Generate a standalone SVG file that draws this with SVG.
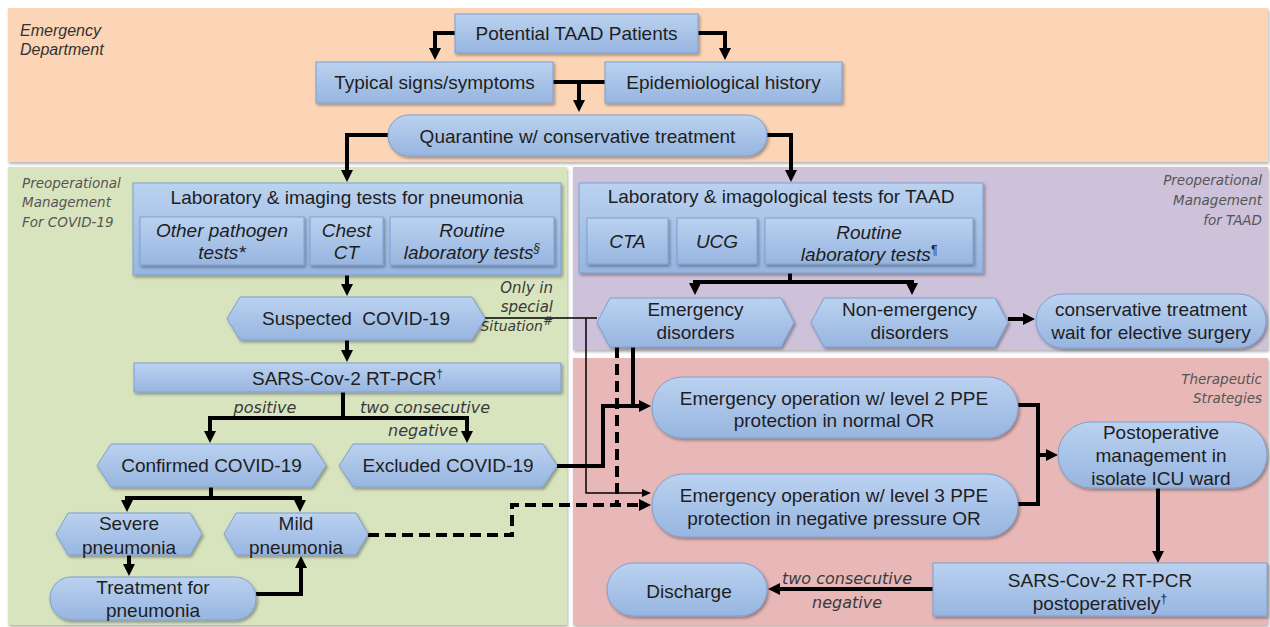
<svg xmlns="http://www.w3.org/2000/svg" width="1270" height="627" viewBox="0 0 1270 627">
<defs>
<linearGradient id="bg" x1="0" y1="0" x2="0" y2="1">
<stop offset="0" stop-color="#BBD2F0"/>
<stop offset="1" stop-color="#97B5E0"/>
</linearGradient>
<filter id="sh" x="-10%" y="-10%" width="120%" height="130%">
<feDropShadow dx="1.5" dy="2" stdDeviation="1.5" flood-color="#000" flood-opacity="0.35"/>
</filter>
<filter id="psh" x="-2%" y="-2%" width="104%" height="106%">
<feDropShadow dx="1" dy="2" stdDeviation="1.5" flood-color="#000" flood-opacity="0.3"/>
</filter>
<marker id="ah" markerUnits="userSpaceOnUse" markerWidth="12" markerHeight="12" refX="1" refY="6" orient="auto" overflow="visible">
<path d="M0,0 L12,6 L0,12 Z" fill="#000"/>
</marker>
<marker id="aht" markerUnits="userSpaceOnUse" markerWidth="9" markerHeight="8" refX="1" refY="4" orient="auto" overflow="visible">
<path d="M0,0 L9,4 L0,8 Z" fill="#000"/>
</marker>
<style>
.box{fill:url(#bg);stroke:#7F9FCF;stroke-width:1;filter:url(#sh)}
.t{font-family:"Liberation Sans",Arial,sans-serif;font-size:19px;fill:#1e1e1e;text-anchor:middle}
.ti{font-family:"Liberation Sans",Arial,sans-serif;font-size:19px;font-style:italic;fill:#1e1e1e;text-anchor:middle}
.pl{font-family:"DejaVu Sans",Verdana,sans-serif;font-size:13.5px;font-style:italic;fill:#555}
.pr{font-family:"DejaVu Sans",Verdana,sans-serif;font-size:13.5px;font-style:italic;fill:#555;text-anchor:end}
.el{font-family:"DejaVu Sans",Verdana,sans-serif;font-size:16px;font-style:italic;fill:#3a3a3a;text-anchor:middle}
.er{font-family:"DejaVu Sans",Verdana,sans-serif;font-size:15px;font-style:italic;fill:#3a3a3a;text-anchor:end}
.ed{font-family:"Liberation Sans",Arial,sans-serif;font-size:16px;font-style:italic;fill:#333}
.sup{font-size:12px}
.sm{font-size:14px}
.c{stroke:#000;stroke-width:4;fill:none}
.thin{stroke:#000;stroke-width:1.5;fill:none}
.dash{stroke:#000;stroke-width:4;fill:none;stroke-dasharray:11 6}
</style>
</defs>

<g id="panels">
<rect x="8" y="8" width="1260" height="154" fill="#FBD5B6" filter="url(#psh)"/>
<rect x="8" y="167" width="559" height="458" fill="#D8E4BE" filter="url(#psh)"/>
<rect x="573" y="167" width="695" height="183" fill="#CDC2DA" filter="url(#psh)"/>
<rect x="573" y="358" width="695" height="267" fill="#E7B8B7" filter="url(#psh)"/>
<text class="ed" x="20" y="36">Emergency</text>
<text class="ed" x="20" y="55">Department</text>
<text class="pl" x="22" y="188">Preoperational</text>
<text class="pl" x="22" y="207">Management</text>
<text class="pl" x="22" y="227">For COVID-19</text>
<text class="pr" x="1262" y="185">Preoperational</text>
<text class="pr" x="1262" y="205">Management</text>
<text class="pr" x="1262" y="225">for TAAD</text>
<text class="pr" x="1262" y="384">Therapeutic</text>
<text class="pr" x="1262" y="403">Strategies</text>
</g>

<g id="connectors">
<path class="c" d="M455,33 H435 V49" marker-end="url(#ah)"/>
<path class="c" d="M698,33 H725 V49" marker-end="url(#ah)"/>
<path class="c" d="M553,82 H605"/>
<path class="c" d="M579,82 V101" marker-end="url(#ah)"/>
<path class="c" d="M388,135 H347 V171" marker-end="url(#ah)"/>
<path class="c" d="M767,135 H791 V171" marker-end="url(#ah)"/>
<path class="c" d="M347,275 V285" marker-end="url(#ah)"/>
<path class="c" d="M347,340 V351" marker-end="url(#ah)"/>
<path class="c" d="M343,392 V418"/>
<path class="c" d="M208,418 H469"/>
<path class="c" d="M210,416 V432" marker-end="url(#ah)"/>
<path class="c" d="M467,416 V432" marker-end="url(#ah)"/>
<path class="c" d="M211,487 V498"/>
<path class="c" d="M125,498 H302"/>
<path class="c" d="M127,496 V501" marker-end="url(#ah)"/>
<path class="c" d="M300,496 V501" marker-end="url(#ah)"/>
<path class="c" d="M129,555 V565" marker-end="url(#ah)"/>
<path class="c" d="M256,594 H301 V567" marker-end="url(#ah)"/>
<path class="c" d="M790,273 V282"/>
<path class="c" d="M693,282 H914"/>
<path class="c" d="M695,280 V284" marker-end="url(#ah)"/>
<path class="c" d="M912,280 V284" marker-end="url(#ah)"/>
<path class="c" d="M1008,319 H1024" marker-end="url(#ah)"/>
<path class="thin" d="M485,318 H597"/>
<path class="thin" d="M586,318 V493 H643" marker-end="url(#aht)"/>
<path class="dash" d="M368,535 H512 V505 H640" marker-end="url(#ah)"/>
<path class="dash" d="M617,347 V505"/>
<path class="c" d="M633,347 V406"/>
<path class="c" d="M557,466 H603 V406 H640" marker-end="url(#ah)"/>
<path class="c" d="M1018,405 H1038 V504 H1018"/>
<path class="c" d="M1038,455 H1047" marker-end="url(#ah)"/>
<path class="c" d="M1158,488 V552" marker-end="url(#ah)"/>
<path class="c" d="M933,589 H779" marker-end="url(#ah)"/>
<text class="el" x="265" y="413">positive</text>
<text class="el" x="425" y="413">two consecutive</text>
<text class="el" x="423" y="436">negative</text>
<text class="er" x="553" y="293">Only in</text>
<text class="er" x="553" y="312">special</text>
<text class="er sm" x="553" y="331">Situation<tspan class="sup" dy="-6">#</tspan></text>
<text class="el" x="847" y="584">two consecutive</text>
<text class="el" x="847" y="608">negative</text>
</g>

<g id="n-potential">
<rect class="box" x="455" y="14" width="243" height="39"/>
<text class="t" x="576.5" y="40">Potential TAAD Patients</text>
</g>
<g id="n-typical">
<rect class="box" x="316" y="62" width="237" height="41"/>
<text class="t" x="434.5" y="89">Typical signs/symptoms</text>
</g>
<g id="n-epidemiological">
<rect class="box" x="605" y="62" width="237" height="41"/>
<text class="t" x="723.5" y="89">Epidemiological history</text>
</g>
<g id="n-quarantine">
<rect class="box" x="388" y="115" width="379" height="41" rx="20.5"/>
<text class="t" x="577.5" y="142.5">Quarantine w/ conservative treatment</text>
</g>

<g id="n-lab-pneumonia">
<rect class="box" x="133" y="183" width="428" height="92"/>
<text class="t" x="347" y="203.5">Laboratory &amp; imaging tests for pneumonia</text>
<rect class="box" x="140" y="217" width="164" height="48"/>
<text class="ti" x="222" y="237">Other pathogen</text>
<text class="ti" x="222" y="259">tests*</text>
<rect class="box" x="310" y="217" width="73" height="48"/>
<text class="ti" x="346.5" y="237">Chest</text>
<text class="ti" x="346.5" y="259">CT</text>
<rect class="box" x="390" y="217" width="164" height="48"/>
<text class="ti" x="472" y="237">Routine</text>
<text class="ti" x="472" y="259">laboratory tests<tspan class="sup" dy="-7">§</tspan></text>
</g>

<g id="n-suspected">
<path class="box" d="M227,318.5 L240,297 H472 L485,318.5 L472,340 H240 Z"/>
<text class="t" x="356" y="325" xml:space="preserve">Suspected  COVID-19</text>
</g>
<g id="n-sars">
<rect class="box" x="134" y="363" width="427" height="29"/>
<text class="t" x="347.5" y="384.5">SARS-Cov-2 RT-PCR<tspan class="sup" dy="-7">†</tspan></text>
</g>
<g id="n-confirmed">
<path class="box" d="M97,465.5 L111,444 H312 L326,465.5 L312,487 H111 Z"/>
<text class="t" x="211.5" y="472">Confirmed COVID-19</text>
</g>
<g id="n-excluded">
<path class="box" d="M339,465.5 L353,444 H543 L557,465.5 L543,487 H353 Z"/>
<text class="t" x="448" y="472">Excluded COVID-19</text>
</g>
<g id="n-severe">
<path class="box" d="M56,534 L68,513 H190 L202,534 L190,555 H68 Z"/>
<text class="t" x="129" y="529.5">Severe</text>
<text class="t" x="129" y="553.5">pneumonia</text>
</g>
<g id="n-mild">
<path class="box" d="M224,534 L236,513 H356 L368,534 L356,555 H236 Z"/>
<text class="t" x="296" y="529.5">Mild</text>
<text class="t" x="296" y="553.5">pneumonia</text>
</g>
<g id="n-treatment">
<rect class="box" x="50" y="577" width="206" height="43" rx="21"/>
<text class="t" x="153" y="593.5">Treatment for</text>
<text class="t" x="153" y="616.5">pneumonia</text>
</g>

<g id="n-lab-taad">
<rect class="box" x="579" y="183" width="404" height="90"/>
<text class="t" x="781" y="202.5">Laboratory &amp; imagological tests for TAAD</text>
<rect class="box" x="587" y="218" width="81" height="46"/>
<text class="ti" x="627.5" y="247.5">CTA</text>
<rect class="box" x="677" y="218" width="80" height="46"/>
<text class="ti" x="717" y="247.5">UCG</text>
<rect class="box" x="765" y="218" width="208" height="46"/>
<text class="ti" x="869" y="238.5">Routine</text>
<text class="ti" x="869" y="260.5">laboratory tests<tspan class="sup" dy="-7">¶</tspan></text>
</g>
<g id="n-emergency">
<path class="box" d="M597,322.5 L610,298 H781 L794,322.5 L781,347 H610 Z"/>
<text class="t" x="695.5" y="315.5">Emergency</text>
<text class="t" x="695.5" y="338.5">disorders</text>
</g>
<g id="n-nonemergency">
<path class="box" d="M811,322.5 L824,298 H995 L1008,322.5 L995,347 H824 Z"/>
<text class="t" x="909.5" y="315.5">Non-emergency</text>
<text class="t" x="909.5" y="338.5">disorders</text>
</g>
<g id="n-conservative">
<rect class="box" x="1036" y="294" width="230" height="54" rx="27"/>
<text class="t" x="1151" y="315.5">conservative treatment</text>
<text class="t" x="1151" y="338.5">wait for elective surgery</text>
</g>

<g id="n-level2">
<rect class="box" x="652" y="377" width="366" height="61" rx="30"/>
<text class="t" x="834" y="404.5">Emergency operation w/ level 2 PPE</text>
<text class="t" x="834" y="426.5">protection in normal OR</text>
</g>
<g id="n-level3">
<rect class="box" x="652" y="474" width="366" height="63" rx="31"/>
<text class="t" x="834" y="501.5">Emergency operation w/ level 3 PPE</text>
<text class="t" x="834" y="524.5">protection in negative pressure OR</text>
</g>
<g id="n-postop">
<rect class="box" x="1058" y="422" width="209" height="66" rx="33"/>
<text class="t" x="1161" y="438.5">Postoperative</text>
<text class="t" x="1161" y="461.5">management in</text>
<text class="t" x="1161" y="484.5">isolate ICU ward</text>
</g>
<g id="n-sars-postop">
<rect class="box" x="933" y="563" width="334" height="53"/>
<text class="t" x="1100" y="586.5">SARS-Cov-2 RT-PCR</text>
<text class="t" x="1100" y="609.5">postoperatively<tspan class="sup" dy="-7">†</tspan></text>
</g>
<g id="n-discharge">
<rect class="box" x="607" y="563" width="160" height="53" rx="26.5"/>
<text class="t" x="689" y="597.5">Discharge</text>
</g>
</svg>
